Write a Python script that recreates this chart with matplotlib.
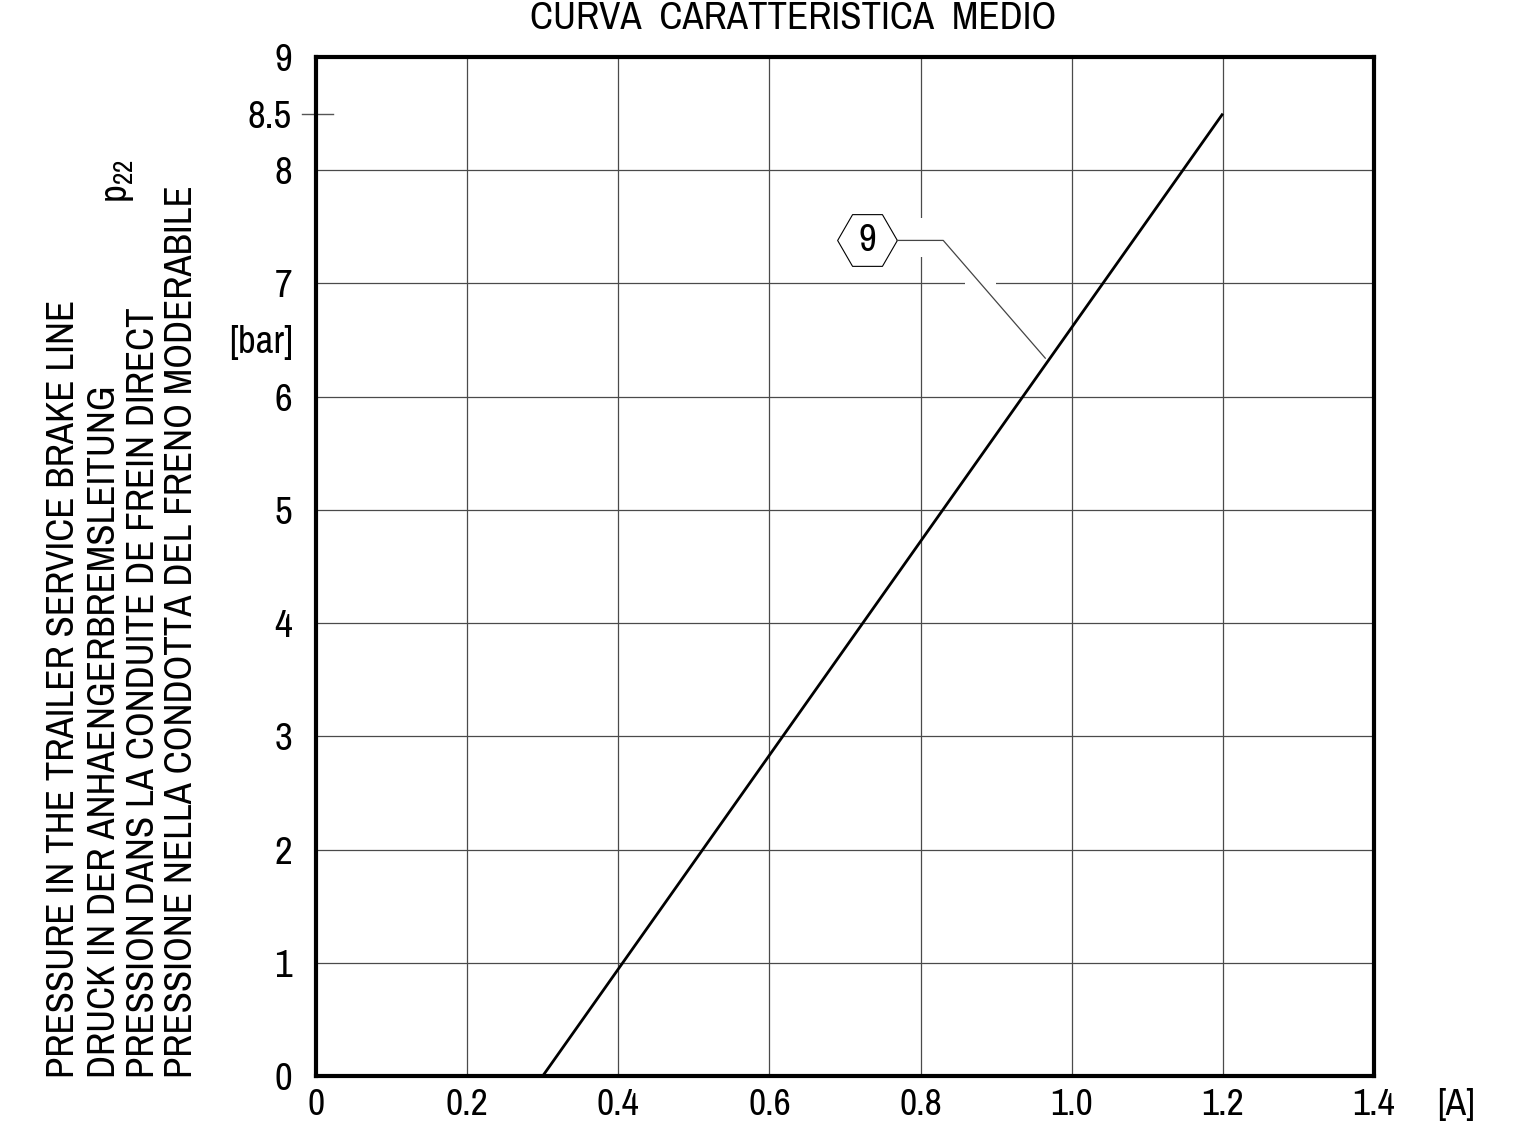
import matplotlib
matplotlib.use("Agg")
import matplotlib.pyplot as plt
from matplotlib.patches import Rectangle

plt.rcParams['font.family'] = ['Archivo Narrow', 'Liberation Sans Narrow', 'Liberation Sans', 'DejaVu Sans']

# data
current_A = [0.3, 1.2]
pressure_bar = [0.0, 8.5]
x_ticks = [0.0, 0.2, 0.4, 0.6, 0.8, 1.0, 1.2, 1.4]
x_labels = ['0', '0.2', '0.4', '0.6', '0.8', '1.0', '1.2', '1.4']
y_ticks = [0, 1, 2, 3, 4, 5, 6, 7, 8, 8.5, 9]
y_labels = ['0', '1', '2', '3', '4', '5', '6', '7', '8', '8.5', '9']
grid_y = [1, 2, 3, 4, 5, 6, 7, 8]
grid_x = [0.2, 0.4, 0.6, 0.8, 1.0, 1.2]
title = 'CURVA  CARATTERISTICA  MEDIO'
ylabel_lines = ['PRESSURE IN THE TRAILER SERVICE BRAKE LINE',
                'DRUCK IN DER ANHAENGERBREMSLEITUNG',
                'PRESSION DANS LA CONDUITE DE FREIN DIRECT',
                'PRESSIONE NELLA CONDOTTA DEL FRENO MODERABILE']
callout = '9'
callout_xy = (0.729, 7.38)
leader_x = [0.769, 0.830, 0.965]
leader_y = [7.38, 7.38, 6.34]

W, H = 1525, 1123
fig = plt.figure(figsize=(W/100, H/100), dpi=100)
L, R, T, B = 316, 1374, 57, 1076
ax = fig.add_axes([L/W, 1-B/H, (R-L)/W, (B-T)/H])
ax.set_xlim(0, 1.4)
ax.set_ylim(0, 9)

def fx(px):
    return px / W
def fy(py):
    return 1 - py / H

# grid
for xv in grid_x:
    ax.axvline(xv, color='#4a4a4a', lw=0.9, zorder=1)
for yv in grid_y:
    ax.axhline(yv, color='#4a4a4a', lw=0.9, zorder=1)

# gaps in grid around the callout
ax.add_patch(Rectangle((0.79, 7.234), 0.02, 0.344, facecolor='white',
                       edgecolor='none', zorder=2))
ax.add_patch(Rectangle((0.8588, 6.9), 0.0412, 0.2, facecolor='white',
                       edgecolor='none', zorder=2))

ax.plot(current_A, pressure_bar, color='black', lw=2.0, zorder=3,
        solid_capstyle='butt')

for s in ax.spines.values():
    s.set_linewidth(3)
ax.set_xticks([]); ax.set_yticks([])

fs = 28
for yv, lab in zip(y_ticks, y_labels):
    ax.annotate(lab, xy=(0, yv), xytext=(-24, 0), textcoords='offset pixels',
                ha='right', va='center_baseline', fontsize=fs, annotation_clip=False)
# small tick at 8.5
tick_trans = ax.get_yaxis_transform()
ax.plot([-14/1058, 17/1058], [8.5, 8.5], color='#555555', lw=1.0,
        transform=tick_trans, clip_on=False, zorder=0)

xfs = 27
for xv, lab in zip(x_ticks, x_labels):
    px = L + xv / 1.4 * (R - L)
    fig.text(fx(px), fy(1121), lab, ha='center', va='bottom', fontsize=xfs)
fig.text(fx(1456), fy(1121), '[A]', ha='center', va='bottom', fontsize=xfs)

fig.text(fx(793), fy(1), title, ha='center', va='top', fontsize=fs)

xs = [64, 105, 144, 182]
for xp, t in zip(xs, ylabel_lines):
    fig.text(fx(xp), fy(1078), t, rotation=90, ha='center', va='bottom', fontsize=28)
fig.text(fx(118), fy(181), r'p$_{\mathregular{22}}$', rotation=90, ha='center', va='center', fontsize=fs)
fig.text(fx(261), fy(342), '[bar]', ha='center', va='center', fontsize=fs)

# callout with hexagon
ax.plot([callout_xy[0]], [callout_xy[1]], marker='H', markersize=43,
        markerfacecolor='white', markeredgecolor='black', markeredgewidth=0.8,
        zorder=4, linestyle='none')
ax.plot(leader_x, leader_y, color='#444444', lw=0.9, zorder=4)
ax.text(callout_xy[0], callout_xy[1], callout, ha='center', va='center',
        fontsize=fs, zorder=5)

fig.savefig('out.png', dpi=100)
